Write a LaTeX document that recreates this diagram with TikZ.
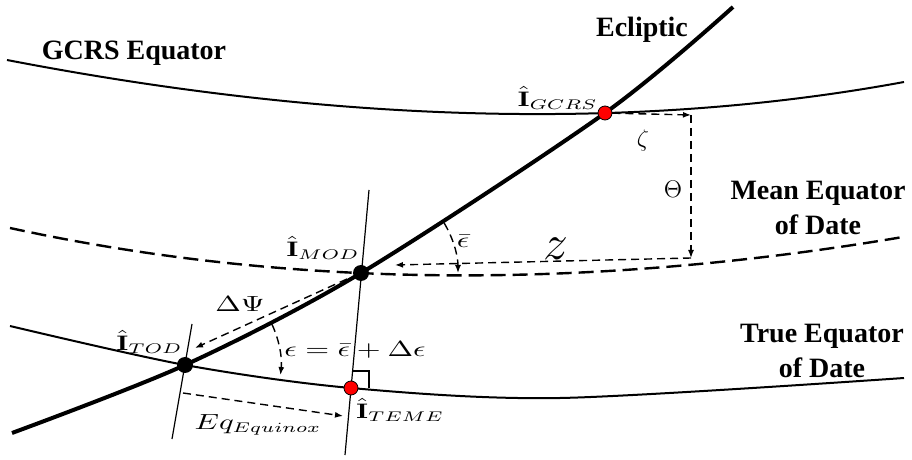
\documentclass[tikz,border=0pt]{standalone}
\usepackage{amsmath,amssymb}
\usepackage{graphicx}
\usepackage{fontspec}
\usepackage{tikz}
\usetikzlibrary{arrows.meta}
\newfontfamily\lblfont{Liberation Serif}
\definecolor{cPonto}{HTML}{FF0000}
\newcommand{\wlbl}[1]{\scalebox{1.4}[1]{$#1$}}

\begin{document}
\begin{tikzpicture}[
  x=0.5pt,y=0.5pt,
  eqt/.style={line width=1pt},
  meq/.style={line width=1.2pt,dash pattern=on 7.5pt off 3.5pt},
  ecl/.style={line width=2pt},
  nrm/.style={line width=0.6pt},
  ar/.style={-{Latex[length=4pt,width=3pt]},line width=0.7pt,dash pattern=on 4pt off 2.5pt},
  rdot/.style={circle,draw=black,fill=cPonto,line width=0.4pt,minimum size=7pt,inner sep=0pt},
  bdot/.style={circle,fill=black,minimum size=8pt,inner sep=0pt},
  ttl/.style={font=\lblfont\bfseries\fontsize{14}{17.5}\selectfont,align=center,inner sep=0pt},
  mth/.style={inner sep=0pt,font=\fontsize{10.5}{12}\selectfont},
  big/.style={inner sep=0pt,font=\fontsize{13}{15}\selectfont}
]
\useasboundingbox (0,0) rectangle (912,-460);

% ---- equadores e ecliptica
\draw[eqt] (7,-60) .. controls (339,-124) and (638,-131) .. (904,-82);
\draw[meq] (10,-228) .. controls (286,-288) and (583,-291) .. (903,-237);
\draw[eqt] plot[smooth] coordinates {(10,-326) (185,-365) (351,-388) (560,-398) (904,-378)};
\draw[ecl] plot[smooth] coordinates {(12,-433) (185,-365) (361,-273) (605,-113) (733,-7)};

% ---- normais
\draw[nrm] (369,-190) -- (345,-455);
\draw[nrm] (192,-324) -- (172,-439);
\draw[nrm] (353,-371) -- (369,-371) -- (369,-388);

% ---- pontos
\node[rdot] (gcrs) at (605,-113) {};
\node[bdot] (mod)  at (361,-273) {};
\node[bdot] (tod)  at (185,-365) {};
\node[rdot] (teme) at (351,-388) {};

% ---- setas
\coordinate (zA) at (691,-115);
\coordinate (zB) at (691,-258);
\draw[ar] (gcrs) -- (zA);
\draw[ar] (zA) -- (zB);
\draw[ar] (zB) -- ([shift={(34,8)}]mod.center);
\draw[ar] ([shift={(31:97)}]mod.center) arc[start angle=31,end angle=0,radius=97];
\draw[ar] ([shift={(-14,-6)}]mod.center) -- ([shift={(10,17)}]tod.center);
\draw[ar] ([shift={(25:96)}]tod.center) arc[start angle=25,end angle=-6,radius=96];
\draw[ar] ([shift={(-2,-28)}]tod.center) -- ([shift={(-8,-28)}]teme.center);

% ---- rotulos
\node[ttl,anchor=base] (lgcrs) at (134,-60) {GCRS Equator};
\node[ttl,anchor=base] (lecl)  at (642,-37) {Ecliptic};
\node[ttl] (lmean) at (818,-208) {Mean Equator\\of Date};
\node[ttl] (ltrue) at (822,-351) {True Equator\\of Date};

\node[mth,anchor=east] (lIg) at (598,-98)  {\wlbl{\hat{\mathbf{I}}_{GCRS}}};
\node[mth,anchor=east] (lIm) at (360,-248) {\wlbl{\hat{\mathbf{I}}_{MOD}}};
\node[mth,anchor=east] (lIt) at (183,-342) {\wlbl{\hat{\mathbf{I}}_{TOD}}};
\node[mth,anchor=west] (lIe) at (356,-410) {\wlbl{\hat{\mathbf{I}}_{TEME}}};

\node[big] (lzeta)  at (643,-141) {$\zeta$};
\node[big] (ltheta) at (673,-189) {$\Theta$};
\node[mth,font=\Huge] (lz) at (556,-249) {$z$};
\node[mth] (lebar) at (463,-241) {\wlbl{\bar{\epsilon}}};
\node[mth] (lpsi)  at (240,-304) {\wlbl{\Delta\Psi}};
\node[mth] (leps)  at (355,-350) {\wlbl{\epsilon=\bar{\epsilon}+\Delta\epsilon}};
\node[mth] (leq)   at (258,-425) {\wlbl{Eq_{Equinox}}};
\end{tikzpicture}
\end{document}
